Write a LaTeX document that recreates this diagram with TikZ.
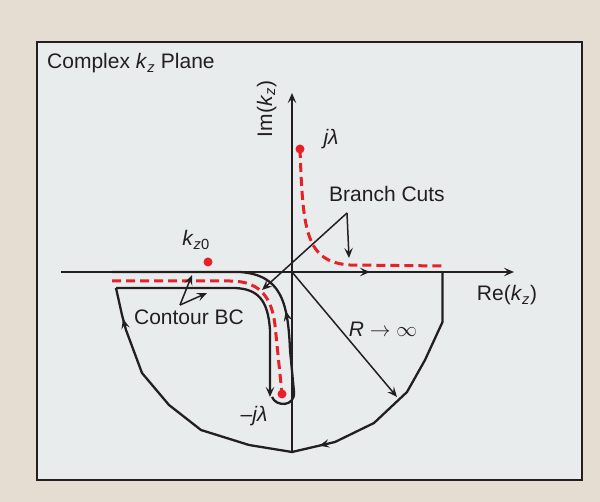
\documentclass[tikz,border=0pt]{standalone}
\usepackage{fontspec}
\setmainfont{Liberation Sans}
\usetikzlibrary{arrows.meta, decorations.markings}
\definecolor{paperBeige}{RGB}{229,221,209}
\definecolor{planeGray}{RGB}{233,236,237}
\definecolor{cutRed}{RGB}{232,32,40}
\definecolor{inkGray}{RGB}{35,31,32}
\newcommand{\kz}{\textit{k}\textsubscript{\textit{z}}}

\begin{document}
\begin{tikzpicture}[x=1pt, y=-1pt, >={Stealth[length=10pt,width=8.5pt,inset=4pt]},
  font=\fontsize{21}{25}\selectfont, text=inkGray,
  axis/.style={draw=inkGray, line width=1.5pt},
  contourline/.style={draw=inkGray, line width=2.3pt, line join=round},
  pointer/.style={draw=inkGray, line width=1.5pt, ->},
  cut/.style={draw=cutRed, line width=3pt, dash pattern=on 9pt off 5pt},
  pole/.style={circle, fill=cutRed, inner sep=0pt, minimum size=9pt},
  flow/.style={postaction={decorate, decoration={markings,
      mark=at position #1 with {\arrow{>}}}}},
  lbl/.style={inner sep=0pt, anchor=base}]

  \fill[paperBeige] (0,0) rectangle (600,502);
  \draw[fill=planeGray, draw=inkGray, line width=1.2pt] (37,42) rectangle (582,480);

  \coordinate (O)   at (292,272);
  \coordinate (reW) at (61,272);
  \coordinate (reE) at (514,272);
  \coordinate (imS) at (292,452);
  \coordinate (imN) at (292,93);
  \coordinate (jl)  at (300,149);
  \coordinate (mjl) at (282,394);
  \coordinate (k0)  at (208,262);

  \node[lbl, anchor=base west] (title) at (47,69) {Complex \kz{} Plane};
  \node[lbl, rotate=90] (imlabel) at (272,109) {Im(\kz)};
  \node[lbl] (relabel) at (507,301) {Re(\kz)};
  \node[lbl] (jlabel) at (331,145) {\textit{jλ}};
  \node[lbl] (mjlabel) at (254,422) {–\textit{jλ}};
  \node[lbl] (k0label) at (196,246) {\textit{k}\textsubscript{\textit{z}0}};
  \node[lbl] (cutlabel) at (387,202) {Branch Cuts};
  \node[lbl] (bclabel) at (189,325) {Contour BC};
  \node[lbl] (rlabel) at (383,337) {\textit{R} $\rightarrow\infty$};

  \draw[axis, ->] (reW) -- (reE);
  \draw[axis, ->] (imS) -- (imN);

  \coordinate (flowA) at (335,272);
  \coordinate (flowB) at (370,272);
  \draw[contourline, ->] (flowA) -- (flowB);

  \draw[contourline, flow=0.443, flow=0.94] (442.5,272) -- (442.5,322) -- (425,360)
    -- (407,392) -- (374,423) -- (335,442) -- (292,452) -- (249,445) -- (201,430)
    -- (169,405) -- (142,373) -- (126,330) -- (122,315) -- (116,288);

  \draw[contourline, ->] (116,288) -- (235,288)
    .. controls (258,289) and (268,300) .. (270,330) -- (270,397);
  \draw[contourline, flow=0.37] (272,397) .. controls (276,407) and (295,407) .. (294,392)
    -- (290,350) .. controls (288,300) and (280,275) .. (240,272) -- (112,272);

  \draw[cut] (jl) .. controls (303,230) and (305,262) .. (350,265) -- (445,266);
  \draw[cut] (112,281) -- (230,281) .. controls (262,281) and (272,300) .. (275,325) -- (mjl);

  \coordinate (cutfork) at (347,213);
  \draw[pointer] (cutfork) -- (349,258);
  \draw[pointer] (cutfork) -- (262,290);

  \coordinate (bcfork) at (180,305);
  \draw[pointer] (bcfork) -- (192,275);
  \draw[pointer] (bcfork) -- (207,293);

  \draw[pointer] (O) -- (397,397);

  \node[pole] (jldot) at (jl) {};
  \node[pole] (mjldot) at (mjl) {};
  \node[pole] (k0dot) at (k0) {};

\end{tikzpicture}
\end{document}
